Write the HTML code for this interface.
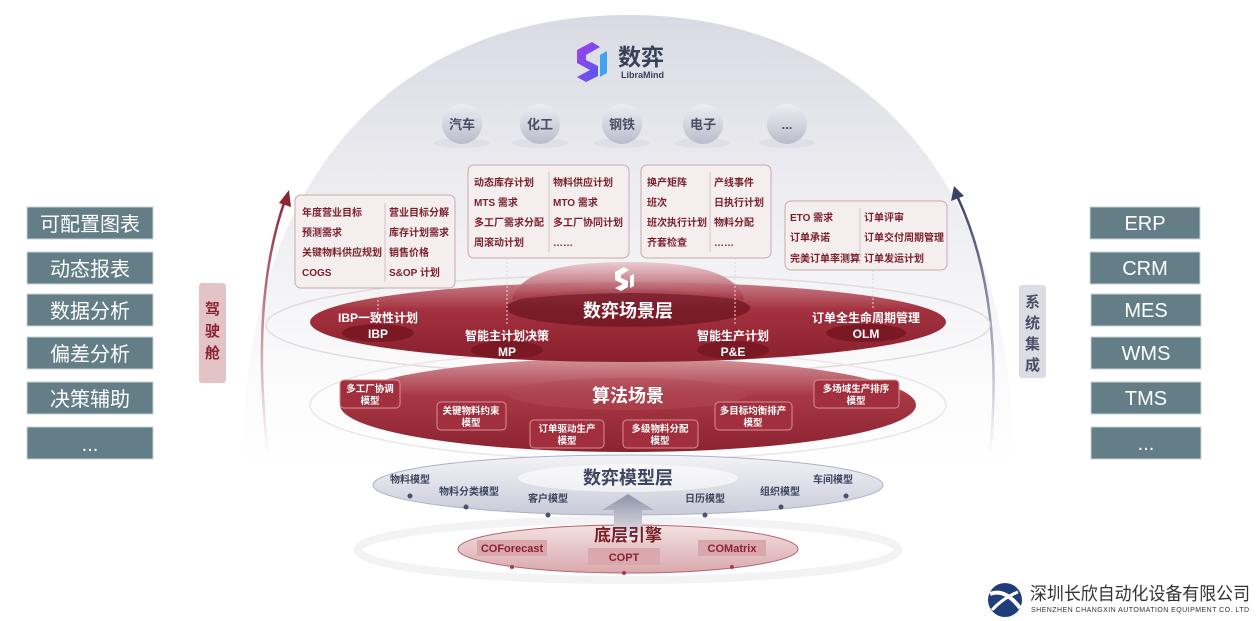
<!DOCTYPE html>
<html><head><meta charset="utf-8"><style>
html,body{margin:0;padding:0;background:#fff;}
svg{display:block;font-family:"Liberation Sans","Noto Sans CJK SC",sans-serif;}
.bt{font-size:10px;fill:#7a1f2a;font-weight:bold;}
.mt{font-size:9.5px;fill:#fff;font-weight:bold;text-anchor:middle;}
.gl{font-size:10px;fill:#3d4560;font-weight:bold;text-anchor:middle;}
.sb{font-size:20px;fill:#fff;text-anchor:middle;}
</style></head><body>
<svg width="1259" height="621" viewBox="0 0 1259 621" xmlns="http://www.w3.org/2000/svg">
<defs>
<linearGradient id="dome" x1="0" y1="0" x2="0" y2="1">
<stop offset="0" stop-color="#d9dae3"/><stop offset="0.35" stop-color="#ebebf0"/><stop offset="0.8" stop-color="#fbfbfc"/><stop offset="1" stop-color="#ffffff"/></linearGradient>
<linearGradient id="red" x1="0" y1="0" x2="0" y2="1"><stop offset="0" stop-color="#c98089"/><stop offset="0.35" stop-color="#a3313f"/><stop offset="1" stop-color="#8a1f2d"/></linearGradient>
<linearGradient id="red2" x1="0" y1="0" x2="0" y2="1"><stop offset="0" stop-color="#d4959c"/><stop offset="0.4" stop-color="#a83846"/><stop offset="1" stop-color="#8c2230"/></linearGradient>
<linearGradient id="cap" x1="0" y1="0" x2="0" y2="1"><stop offset="0" stop-color="#e9c8cc"/><stop offset="1" stop-color="#a33343"/></linearGradient>
<linearGradient id="gray" x1="0" y1="0" x2="0" y2="1"><stop offset="0" stop-color="#f3f3f7"/><stop offset="1" stop-color="#c9cbd9"/></linearGradient>
<linearGradient id="eng" x1="0" y1="0" x2="0" y2="1"><stop offset="0" stop-color="#f3e1e2"/><stop offset="1" stop-color="#d9a9ad"/></linearGradient>
<linearGradient id="arr" x1="0" y1="0" x2="0" y2="1"><stop offset="0" stop-color="#8f93a6"/><stop offset="1" stop-color="#e8e8ee"/></linearGradient>
<linearGradient id="ball" x1="0" y1="0" x2="0" y2="1"><stop offset="0" stop-color="#eeeef3"/><stop offset="1" stop-color="#b9bccb"/></linearGradient>
<linearGradient id="larr" x1="0" y1="1" x2="0" y2="0"><stop offset="0" stop-color="#fff"/><stop offset="1" stop-color="#8f2433"/></linearGradient>
<linearGradient id="rarr" x1="0" y1="1" x2="0" y2="0"><stop offset="0" stop-color="#fff"/><stop offset="1" stop-color="#3c4263"/></linearGradient>
<linearGradient id="logo" x1="0" y1="0" x2="1" y2="1"><stop offset="0" stop-color="#a33ee8"/><stop offset="1" stop-color="#4a5cf0"/></linearGradient>
</defs>

<!-- dome -->
<path d="M242 470 C242 150 420 15 628 15 C836 15 1014 150 1014 470 Z" fill="url(#dome)"/>

<!-- side arrows -->
<path d="M268 455 Q250 300 285 200" fill="none" stroke="url(#larr)" stroke-width="2.5"/>
<path d="M279 203 L289 190 L291 207 Z" fill="#8f2433"/>
<path d="M990 455 Q1005 300 958 198" fill="none" stroke="url(#rarr)" stroke-width="2.5"/>
<path d="M951 201 L954 186 L964 196 Z" fill="#3c4263"/>

<!-- left boxes -->
<g>
<rect x="27" y="207" width="126" height="32" fill="#637e87" stroke="#c9d3d6"/><text class="sb" x="90" y="231">可配置图表</text>
<rect x="27" y="252" width="126" height="32" fill="#637e87" stroke="#c9d3d6"/><text class="sb" x="90" y="276">动态报表</text>
<rect x="27" y="294" width="126" height="32" fill="#637e87" stroke="#c9d3d6"/><text class="sb" x="90" y="318">数据分析</text>
<rect x="27" y="337" width="126" height="32" fill="#637e87" stroke="#c9d3d6"/><text class="sb" x="90" y="361">偏差分析</text>
<rect x="27" y="382" width="126" height="32" fill="#637e87" stroke="#c9d3d6"/><text class="sb" x="90" y="406">决策辅助</text>
<rect x="27" y="427" width="126" height="32" fill="#637e87" stroke="#c9d3d6"/><text class="sb" x="90" y="451">...</text>
</g>
<!-- right boxes -->
<g>
<rect x="1090" y="207" width="110" height="32" fill="#637e87" stroke="#c9d3d6"/><text class="sb" x="1145" y="230">ERP</text>
<rect x="1090" y="252" width="110" height="32" fill="#637e87" stroke="#c9d3d6"/><text class="sb" x="1145" y="275">CRM</text>
<rect x="1091" y="294" width="110" height="32" fill="#637e87" stroke="#c9d3d6"/><text class="sb" x="1146" y="317">MES</text>
<rect x="1091" y="337" width="110" height="32" fill="#637e87" stroke="#c9d3d6"/><text class="sb" x="1146" y="360">WMS</text>
<rect x="1091" y="382" width="110" height="32" fill="#637e87" stroke="#c9d3d6"/><text class="sb" x="1146" y="405">TMS</text>
<rect x="1091" y="427" width="110" height="32" fill="#637e87" stroke="#c9d3d6"/><text class="sb" x="1146" y="450">...</text>
</g>
<!-- side tags -->
<rect x="199" y="283" width="27" height="100" rx="3" fill="#e4c3c6"/>
<text x="212.5" y="314" font-size="15" font-weight="bold" fill="#8a2331" text-anchor="middle">驾</text>
<text x="212.5" y="336" font-size="15" font-weight="bold" fill="#8a2331" text-anchor="middle">驶</text>
<text x="212.5" y="358" font-size="15" font-weight="bold" fill="#8a2331" text-anchor="middle">舱</text>
<rect x="1019" y="285" width="27" height="93" rx="3" fill="#dcdde4"/>
<text x="1032.5" y="307" font-size="15" font-weight="bold" fill="#4a4f66" text-anchor="middle">系</text>
<text x="1032.5" y="328" font-size="15" font-weight="bold" fill="#4a4f66" text-anchor="middle">统</text>
<text x="1032.5" y="349" font-size="15" font-weight="bold" fill="#4a4f66" text-anchor="middle">集</text>
<text x="1032.5" y="370" font-size="15" font-weight="bold" fill="#4a4f66" text-anchor="middle">成</text>

<!-- logo -->
<path d="M577 50 L592 42 L600 47 L586 55 L586 60 L598 66 L598 76 L586 82 L577 77 L590 70 L577 63 Z" fill="url(#logo)"/>
<path d="M600 55 L607 51 L607 73 L600 77 Z" fill="#3fa3f0"/>
<text x="618" y="65" font-size="23" font-weight="bold" fill="#3a3f58">数弈</text>
<text x="621" y="78" font-size="9" font-weight="bold" fill="#3a3f58">LibraMind</text>

<!-- industry balls -->
<g font-size="13" font-weight="bold" fill="#4a4f66" text-anchor="middle">
<ellipse cx="462" cy="143" rx="28" ry="5" fill="#dedfe7"/><circle cx="462" cy="124" r="20" fill="url(#ball)"/><text x="462" y="129">汽车</text>
<ellipse cx="540" cy="143" rx="28" ry="5" fill="#dedfe7"/><circle cx="540" cy="124" r="20" fill="url(#ball)"/><text x="540" y="129">化工</text>
<ellipse cx="622" cy="143" rx="28" ry="5" fill="#dedfe7"/><circle cx="622" cy="124" r="20" fill="url(#ball)"/><text x="622" y="129">钢铁</text>
<ellipse cx="703" cy="143" rx="28" ry="5" fill="#dedfe7"/><circle cx="703" cy="124" r="20" fill="url(#ball)"/><text x="703" y="129">电子</text>
<ellipse cx="787" cy="143" rx="28" ry="5" fill="#dedfe7"/><circle cx="787" cy="124" r="20" fill="url(#ball)"/><text x="787" y="129">...</text>
</g>

<!-- faint rings -->
<ellipse cx="628" cy="325" rx="362" ry="50" fill="none" stroke="#e5dadc" stroke-width="1.5"/>
<ellipse cx="628" cy="405" rx="318" ry="55" fill="none" stroke="#ece6e8" stroke-width="1.5"/>
<ellipse cx="628" cy="550" rx="270" ry="30" fill="none" stroke="#f3f3f5" stroke-width="8"/>

<!-- algorithm layer -->
<ellipse cx="628" cy="405" rx="288" ry="47" fill="url(#red2)"/>
<ellipse cx="628" cy="394" rx="120" ry="16" fill="#b14a56" opacity="0.5"/>
<text x="628" y="402" font-size="18" font-weight="bold" fill="#fff" text-anchor="middle">算法场景</text>
<g stroke="#d88f98" stroke-width="1" fill="#a22f3d">
<rect x="340" y="380" width="60" height="28" rx="4"/>
<rect x="437" y="402" width="69" height="28" rx="4"/>
<rect x="530" y="420" width="74" height="28" rx="4"/>
<rect x="623" y="420" width="75" height="28" rx="4"/>
<rect x="715" y="402" width="77" height="28" rx="4"/>
<rect x="814" y="380" width="85" height="28" rx="4"/>
</g>
<text class="mt" x="370" y="392">多工厂协调</text><text class="mt" x="370" y="404">模型</text>
<text class="mt" x="471" y="414">关键物料约束</text><text class="mt" x="471" y="426">模型</text>
<text class="mt" x="567" y="432">订单驱动生产</text><text class="mt" x="567" y="444">模型</text>
<text class="mt" x="660" y="432">多级物料分配</text><text class="mt" x="660" y="444">模型</text>
<text class="mt" x="753" y="414">多目标均衡排产</text><text class="mt" x="753" y="426">模型</text>
<text class="mt" x="856" y="392">多场域生产排序</text><text class="mt" x="856" y="404">模型</text>

<!-- scene layer -->
<ellipse cx="628" cy="322" rx="318" ry="40" fill="url(#red)"/>
<ellipse cx="628" cy="308" rx="122" ry="19" fill="#6e1522" opacity="0.75"/>
<path d="M512 300 Q520 262 628 262 Q736 262 744 300 Q628 286 512 300 Z" fill="url(#cap)" opacity="0.9"/>
<path d="M615 272 L624 267 L629 270 L621 275 L621 278 L628 281 L628 287 L621 291 L615 288 L623 284 L615 280 Z" fill="#fff"/>
<path d="M630 276 L634 274 L634 286 L630 288 Z" fill="#fff"/>
<text x="628" y="317" font-size="18" font-weight="bold" fill="#fff" text-anchor="middle">数弈场景层</text>
<ellipse cx="378" cy="333" rx="36" ry="9" fill="#7a1824"/>
<ellipse cx="507" cy="350" rx="36" ry="9" fill="#7a1824"/>
<ellipse cx="733" cy="350" rx="36" ry="9" fill="#7a1824"/>
<ellipse cx="866" cy="333" rx="40" ry="9" fill="#7a1824"/>
<g font-size="12" font-weight="bold" fill="#fff" text-anchor="middle">
<text x="378" y="322">IBP一致性计划</text><text x="378" y="338">IBP</text>
<text x="507" y="340">智能主计划决策</text><text x="507" y="356">MP</text>
<text x="733" y="340">智能生产计划</text><text x="733" y="356">P&amp;E</text>
<text x="866" y="322">订单全生命周期管理</text><text x="866" y="338">OLM</text>
</g>
<g stroke="#e8d6d8" stroke-dasharray="2,2" stroke-width="1">
<line x1="378" y1="288" x2="378" y2="310"/>
<line x1="507" y1="258" x2="507" y2="326"/>
<line x1="735" y1="258" x2="735" y2="326"/>
<line x1="873" y1="270" x2="873" y2="308"/>
</g>

<!-- info boxes -->
<g fill="#f5eeef" stroke="#c9a9ad" stroke-width="1">
<rect x="295" y="195" width="160" height="93" rx="6"/>
<rect x="468" y="165" width="161" height="93" rx="6"/>
<rect x="641" y="165" width="130" height="93" rx="6"/>
<rect x="785" y="201" width="162" height="69" rx="6"/>
</g>
<g stroke="#d6c2c4"><line x1="385" y1="203" x2="385" y2="282"/><line x1="549" y1="172" x2="549" y2="252"/><line x1="710" y1="172" x2="710" y2="252"/><line x1="860" y1="208" x2="860" y2="264"/></g>
<g>
<text class="bt" x="302" y="216">年度营业目标</text><text class="bt" x="389" y="216">营业目标分解</text>
<text class="bt" x="302" y="236">预测需求</text><text class="bt" x="389" y="236">库存计划需求</text>
<text class="bt" x="302" y="256">关键物料供应规划</text><text class="bt" x="389" y="256">销售价格</text>
<text class="bt" x="302" y="276">COGS</text><text class="bt" x="389" y="276">S&amp;OP 计划</text>
<text class="bt" x="474" y="186">动态库存计划</text><text class="bt" x="553" y="186">物料供应计划</text>
<text class="bt" x="474" y="206">MTS 需求</text><text class="bt" x="553" y="206">MTO 需求</text>
<text class="bt" x="474" y="226">多工厂需求分配</text><text class="bt" x="553" y="226">多工厂协同计划</text>
<text class="bt" x="474" y="246">周滚动计划</text><text class="bt" x="553" y="246">……</text>
<text class="bt" x="647" y="186">换产矩阵</text><text class="bt" x="714" y="186">产线事件</text>
<text class="bt" x="647" y="206">班次</text><text class="bt" x="714" y="206">日执行计划</text>
<text class="bt" x="647" y="226">班次执行计划</text><text class="bt" x="714" y="226">物料分配</text>
<text class="bt" x="647" y="246">齐套检查</text><text class="bt" x="714" y="246">……</text>
<text class="bt" x="790" y="221">ETO 需求</text><text class="bt" x="864" y="221">订单评审</text>
<text class="bt" x="790" y="241">订单承诺</text><text class="bt" x="864" y="241">订单交付周期管理</text>
<text class="bt" x="790" y="262">完美订单率测算</text><text class="bt" x="864" y="262">订单发运计划</text>
</g>

<!-- model layer -->
<ellipse cx="628" cy="485" rx="255" ry="30" fill="url(#gray)" stroke="#aeb1c4"/>
<ellipse cx="628" cy="478" rx="110" ry="14" fill="#ffffff" opacity="0.6"/>
<text x="628" y="484" font-size="18" font-weight="bold" fill="#3d4560" text-anchor="middle">数弈模型层</text>
<text class="gl" x="410" y="483">物料模型</text>
<text class="gl" x="469" y="495">物料分类模型</text>
<text class="gl" x="548" y="502">客户模型</text>
<text class="gl" x="705" y="502">日历模型</text>
<text class="gl" x="780" y="495">组织模型</text>
<text class="gl" x="833" y="483">车间模型</text>
<g fill="#4a5070"><circle cx="410" cy="496" r="2.5"/><circle cx="466" cy="507" r="2.5"/><circle cx="548" cy="515" r="2.5"/><circle cx="705" cy="515" r="2.5"/><circle cx="781" cy="507" r="2.5"/><circle cx="846" cy="496" r="2.5"/></g>

<!-- engine layer -->
<ellipse cx="628" cy="549" rx="170" ry="24" fill="url(#eng)" stroke="#b8636e"/>
<path d="M614 540 L614 510 L602 510 L628 494 L654 510 L642 510 L642 540 Z" fill="url(#arr)"/>
<text x="628" y="541" font-size="17" font-weight="bold" fill="#7a1f2a" text-anchor="middle">底层引擎</text>
<g fill="#d9a7ac"><rect x="477" y="540" width="70" height="16"/><rect x="588" y="548" width="72" height="17"/><rect x="698" y="540" width="68" height="16"/></g>
<g font-size="11" font-weight="bold" fill="#8a2331" text-anchor="middle">
<text x="512" y="552">COForecast</text><text x="624" y="561">COPT</text><text x="732" y="552">COMatrix</text></g>
<g fill="#a83846"><circle cx="512" cy="567" r="2"/><circle cx="624" cy="573" r="2"/><circle cx="732" cy="567" r="2"/></g>

<!-- company logo -->
<circle cx="1005" cy="600" r="17" fill="#1e3d7a"/>
<path d="M990 594 Q1005 588 1020 608" stroke="#fff" stroke-width="4" fill="none"/>
<path d="M992 610 Q1003 598 1018 592" stroke="#fff" stroke-width="3" fill="none"/>
<text x="1030" y="600" font-size="18" fill="#333" textLength="220" lengthAdjust="spacingAndGlyphs">深圳长欣自动化设备有限公司</text>
<text x="1031" y="612" font-size="7" fill="#333" textLength="218">SHENZHEN CHANGXIN AUTOMATION EQUIPMENT CO. LTD</text>
</svg>
</body></html>
